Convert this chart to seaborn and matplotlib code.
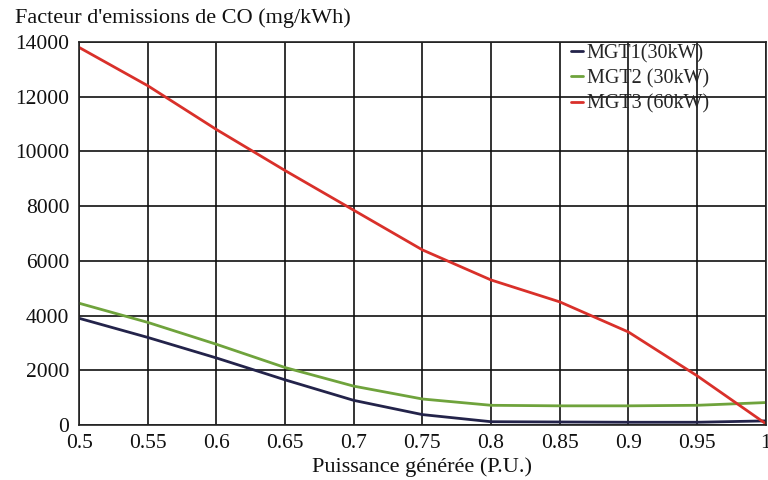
import numpy as np
import pandas as pd
import matplotlib
matplotlib.use("Agg")
import matplotlib.pyplot as plt
import seaborn as sns

puissance = [0.5, 0.55, 0.6, 0.65, 0.7, 0.75, 0.8, 0.85, 0.9, 0.95, 1.0]
mgt1 = [3900, 3200, 2450, 1650, 900, 380, 120, 110, 100, 100, 150]
mgt2 = [4450, 3750, 2950, 2100, 1420, 950, 720, 700, 700, 720, 820]
mgt3 = [13800, 12400, 10800, 9300, 7850, 6400, 5300, 4500, 3400, 1800, 50]
series_names = ["MGT1(30kW)", "MGT2 (30kW)", "MGT3 (60kW)"]
series_colors = ["#23234a", "#6fa33c", "#d9302a"]

df = pd.concat([
    pd.DataFrame({"x": puissance, "y": vals, "serie": name})
    for name, vals in zip(series_names, [mgt1, mgt2, mgt3])
])

sns.set_theme(style="whitegrid")
plt.rcParams["font.family"] = ["Liberation Serif", "DejaVu Serif"]

fig = plt.figure(figsize=(7.68, 4.8), dpi=100)
ax = fig.add_axes([0.103, 0.1146, 0.894, 0.798])

sns.lineplot(data=df, x="x", y="y", hue="serie", palette=dict(zip(series_names, series_colors)),
             linewidth=2.0, ax=ax, legend=True)

ax.set_xlim(0.5, 1.0)
ax.set_ylim(0, 14000)
ax.set_xticks([0.5, 0.55, 0.6, 0.65, 0.7, 0.75, 0.8, 0.85, 0.9, 0.95, 1.0])
ax.set_xticklabels(["0.5", "0.55", "0.6", "0.65", "0.7", "0.75", "0.8", "0.85", "0.9", "0.95", "1"])
ax.set_yticks(range(0, 14001, 2000))
ax.grid(True, color="#111111", linewidth=1.2)
for s in ax.spines.values():
    s.set_color("#222222")
    s.set_linewidth(1.2)
ax.tick_params(axis="both", labelsize=15.5, length=0, colors="#111111")
ax.tick_params(axis="x", pad=6.5)
ax.tick_params(axis="y", pad=7)
ax.set_xlabel("Puissance générée (P.U.)", fontsize=16, labelpad=3, color="#111111")
ax.set_ylabel("")
fig.text(0.019, 0.962, "Facteur d'emissions de CO (mg/kWh)", fontsize=16, color="#111111", va="center")

leg = ax.legend(loc="upper left", bbox_to_anchor=(0.716, 0.995), frameon=False, fontsize=14.5,
                handlelength=0.6, handletextpad=0.2, borderaxespad=0, borderpad=0, labelspacing=0.3)

fig.savefig("out.png", dpi=100)
